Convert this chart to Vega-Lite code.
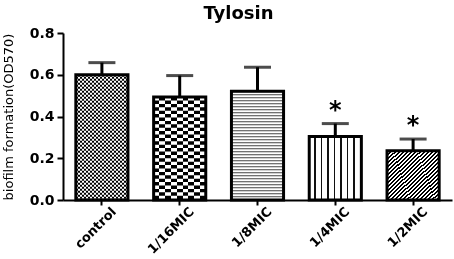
{
  "$schema": "https://vega.github.io/schema/vega-lite/v6.json",
  "width": 389,
  "height": 167,
  "autosize": "none",
  "padding": {"left": 63, "top": 33, "right": 2, "bottom": 59},
  "background": "white",
  "config": {"view": {"stroke": null}},
  "title": {"text": "Tylosin", "font": "DejaVu Sans", "fontSize": 18, "fontWeight": "bold", "color": "black", "dx": -19, "offset": 3},
  "data": {"values": [
    {"group": "control", "mean": 0.6, "upper": 0.658, "sig": ""},
    {"group": "1/16MIC", "mean": 0.493, "upper": 0.596, "sig": ""},
    {"group": "1/8MIC", "mean": 0.521, "upper": 0.636, "sig": ""},
    {"group": "1/4MIC", "mean": 0.304, "upper": 0.366, "sig": "*"},
    {"group": "1/2MIC", "mean": 0.236, "upper": 0.292, "sig": "*"}
  ]},
  "encoding": {
    "x": {"field": "group", "type": "nominal", "sort": null,
      "scale": {"paddingInner": 0.33, "paddingOuter": 0.165},
      "axis": {"title": null, "labelAngle": -45, "labelFont": "DejaVu Sans", "labelFontWeight": "bold", "labelFontSize": 13, "labelColor": "black", "domainColor": "black", "domainWidth": 2, "tickColor": "black", "tickWidth": 2, "tickSize": 5, "labelPadding": 0, "labelOffset": 8}},
    "y": {"field": "mean", "type": "quantitative", "scale": {"domain": [0, 0.8], "nice": false},
      "axis": {"title": "biofilm formation(OD570)", "values": [0, 0.2, 0.4, 0.6, 0.8], "format": ".1f", "grid": false, "labelFont": "DejaVu Sans", "labelFontWeight": "bold", "labelFontSize": 14, "labelColor": "black", "domainColor": "black", "domainWidth": 2, "tickColor": "black", "tickWidth": 2, "tickSize": 6, "labelPadding": 3, "titleFont": "DejaVu Sans", "titleFontSize": 13, "titleFontWeight": "normal", "titleColor": "black", "titlePadding": 14}}
  },
  "layer": [
    {"mark": {"type": "bar", "fill": "white", "strokeWidth": 0}},
    {"transform": [{"filter": "datum.group == 'control'"}],
     "mark": {"type": "rule", "color": "black", "strokeWidth": 52, "strokeDash": [2, 2], "strokeCap": "butt"},
     "encoding": {"y2": {"datum": 0}}},
    {"transform": [{"filter": "datum.group == 'control'"}],
     "mark": {"type": "bar", "strokeWidth": 0, "blend": "difference", "fill": {"gradient": "linear", "x1": 0, "y1": 0, "x2": 1, "y2": 0, "stops": [
       {"offset": 0, "color": "white"}, {"offset": 0.0385, "color": "white"}, {"offset": 0.0385, "color": "rgba(255,255,255,0)"}, {"offset": 0.0769, "color": "rgba(255,255,255,0)"},
       {"offset": 0.0769, "color": "white"}, {"offset": 0.1154, "color": "white"}, {"offset": 0.1154, "color": "rgba(255,255,255,0)"}, {"offset": 0.1538, "color": "rgba(255,255,255,0)"},
       {"offset": 0.1538, "color": "white"}, {"offset": 0.1923, "color": "white"}, {"offset": 0.1923, "color": "rgba(255,255,255,0)"}, {"offset": 0.2308, "color": "rgba(255,255,255,0)"},
       {"offset": 0.2308, "color": "white"}, {"offset": 0.2692, "color": "white"}, {"offset": 0.2692, "color": "rgba(255,255,255,0)"}, {"offset": 0.3077, "color": "rgba(255,255,255,0)"},
       {"offset": 0.3077, "color": "white"}, {"offset": 0.3462, "color": "white"}, {"offset": 0.3462, "color": "rgba(255,255,255,0)"}, {"offset": 0.3846, "color": "rgba(255,255,255,0)"},
       {"offset": 0.3846, "color": "white"}, {"offset": 0.4231, "color": "white"}, {"offset": 0.4231, "color": "rgba(255,255,255,0)"}, {"offset": 0.4615, "color": "rgba(255,255,255,0)"},
       {"offset": 0.4615, "color": "white"}, {"offset": 0.5, "color": "white"}, {"offset": 0.5, "color": "rgba(255,255,255,0)"}, {"offset": 0.5385, "color": "rgba(255,255,255,0)"},
       {"offset": 0.5385, "color": "white"}, {"offset": 0.5769, "color": "white"}, {"offset": 0.5769, "color": "rgba(255,255,255,0)"}, {"offset": 0.6154, "color": "rgba(255,255,255,0)"},
       {"offset": 0.6154, "color": "white"}, {"offset": 0.6538, "color": "white"}, {"offset": 0.6538, "color": "rgba(255,255,255,0)"}, {"offset": 0.6923, "color": "rgba(255,255,255,0)"},
       {"offset": 0.6923, "color": "white"}, {"offset": 0.7308, "color": "white"}, {"offset": 0.7308, "color": "rgba(255,255,255,0)"}, {"offset": 0.7692, "color": "rgba(255,255,255,0)"},
       {"offset": 0.7692, "color": "white"}, {"offset": 0.8077, "color": "white"}, {"offset": 0.8077, "color": "rgba(255,255,255,0)"}, {"offset": 0.8462, "color": "rgba(255,255,255,0)"},
       {"offset": 0.8462, "color": "white"}, {"offset": 0.8846, "color": "white"}, {"offset": 0.8846, "color": "rgba(255,255,255,0)"}, {"offset": 0.9231, "color": "rgba(255,255,255,0)"},
       {"offset": 0.9231, "color": "white"}, {"offset": 0.9615, "color": "white"}, {"offset": 0.9615, "color": "rgba(255,255,255,0)"}, {"offset": 1, "color": "rgba(255,255,255,0)"}
     ]}}},
    {"transform": [{"filter": "datum.group == '1/16MIC'"}],
     "mark": {"type": "rule", "color": "black", "strokeWidth": 52, "strokeDash": [3.4, 3.4], "strokeCap": "butt"},
     "encoding": {"y2": {"datum": 0}}},
    {"transform": [{"filter": "datum.group == '1/16MIC'"}],
     "mark": {"type": "bar", "strokeWidth": 0, "blend": "difference", "fill": {"gradient": "linear", "x1": 0, "y1": 0, "x2": 1, "y2": 0, "stops": [
       {"offset": 0, "color": "white"}, {"offset": 0.1111, "color": "white"}, {"offset": 0.1111, "color": "rgba(255,255,255,0)"}, {"offset": 0.2222, "color": "rgba(255,255,255,0)"},
       {"offset": 0.2222, "color": "white"}, {"offset": 0.3333, "color": "white"}, {"offset": 0.3333, "color": "rgba(255,255,255,0)"}, {"offset": 0.4444, "color": "rgba(255,255,255,0)"},
       {"offset": 0.4444, "color": "white"}, {"offset": 0.5556, "color": "white"}, {"offset": 0.5556, "color": "rgba(255,255,255,0)"}, {"offset": 0.6667, "color": "rgba(255,255,255,0)"},
       {"offset": 0.6667, "color": "white"}, {"offset": 0.7778, "color": "white"}, {"offset": 0.7778, "color": "rgba(255,255,255,0)"}, {"offset": 0.8889, "color": "rgba(255,255,255,0)"},
       {"offset": 0.8889, "color": "white"}, {"offset": 1, "color": "white"}
     ]}}},
    {"transform": [{"filter": "datum.group == '1/8MIC'"}],
     "mark": {"type": "rule", "color": "#444", "strokeWidth": 52, "strokeDash": [1, 2], "strokeCap": "butt"},
     "encoding": {"y2": {"datum": 0}}},
    {"transform": [{"filter": "datum.group == '1/4MIC'"}],
     "mark": {"type": "bar", "strokeWidth": 0, "fill": {"gradient": "linear", "x1": 0, "y1": 0, "x2": 1, "y2": 0, "stops": [
       {"offset": 0, "color": "white"}, {"offset": 0.095, "color": "white"}, {"offset": 0.095, "color": "#111"}, {"offset": 0.125, "color": "#111"},
       {"offset": 0.125, "color": "white"}, {"offset": 0.22, "color": "white"}, {"offset": 0.22, "color": "#111"}, {"offset": 0.25, "color": "#111"},
       {"offset": 0.25, "color": "white"}, {"offset": 0.345, "color": "white"}, {"offset": 0.345, "color": "#111"}, {"offset": 0.375, "color": "#111"},
       {"offset": 0.375, "color": "white"}, {"offset": 0.47, "color": "white"}, {"offset": 0.47, "color": "#111"}, {"offset": 0.5, "color": "#111"},
       {"offset": 0.5, "color": "white"}, {"offset": 0.595, "color": "white"}, {"offset": 0.595, "color": "#111"}, {"offset": 0.625, "color": "#111"},
       {"offset": 0.625, "color": "white"}, {"offset": 0.72, "color": "white"}, {"offset": 0.72, "color": "#111"}, {"offset": 0.75, "color": "#111"},
       {"offset": 0.75, "color": "white"}, {"offset": 0.845, "color": "white"}, {"offset": 0.845, "color": "#111"}, {"offset": 0.875, "color": "#111"},
       {"offset": 0.875, "color": "white"}, {"offset": 1, "color": "white"}
     ]}}},
    {"transform": [{"filter": "datum.group == '1/2MIC'"}],
     "mark": {"type": "bar", "strokeWidth": 0, "fill": {"gradient": "linear", "x1": 0, "y1": 0, "x2": 1, "y2": 1, "stops": [
       {"offset": 0, "color": "#000"}, {"offset": 0.02, "color": "#000"}, {"offset": 0.02, "color": "#fff"}, {"offset": 0.04, "color": "#fff"},
       {"offset": 0.04, "color": "#000"}, {"offset": 0.06, "color": "#000"}, {"offset": 0.06, "color": "#fff"}, {"offset": 0.08, "color": "#fff"},
       {"offset": 0.08, "color": "#000"}, {"offset": 0.1, "color": "#000"}, {"offset": 0.1, "color": "#fff"}, {"offset": 0.12, "color": "#fff"},
       {"offset": 0.12, "color": "#000"}, {"offset": 0.14, "color": "#000"}, {"offset": 0.14, "color": "#fff"}, {"offset": 0.16, "color": "#fff"},
       {"offset": 0.16, "color": "#000"}, {"offset": 0.18, "color": "#000"}, {"offset": 0.18, "color": "#fff"}, {"offset": 0.2, "color": "#fff"},
       {"offset": 0.2, "color": "#000"}, {"offset": 0.22, "color": "#000"}, {"offset": 0.22, "color": "#fff"}, {"offset": 0.24, "color": "#fff"},
       {"offset": 0.24, "color": "#000"}, {"offset": 0.26, "color": "#000"}, {"offset": 0.26, "color": "#fff"}, {"offset": 0.28, "color": "#fff"},
       {"offset": 0.28, "color": "#000"}, {"offset": 0.3, "color": "#000"}, {"offset": 0.3, "color": "#fff"}, {"offset": 0.32, "color": "#fff"},
       {"offset": 0.32, "color": "#000"}, {"offset": 0.34, "color": "#000"}, {"offset": 0.34, "color": "#fff"}, {"offset": 0.36, "color": "#fff"},
       {"offset": 0.36, "color": "#000"}, {"offset": 0.38, "color": "#000"}, {"offset": 0.38, "color": "#fff"}, {"offset": 0.4, "color": "#fff"},
       {"offset": 0.4, "color": "#000"}, {"offset": 0.42, "color": "#000"}, {"offset": 0.42, "color": "#fff"}, {"offset": 0.44, "color": "#fff"},
       {"offset": 0.44, "color": "#000"}, {"offset": 0.46, "color": "#000"}, {"offset": 0.46, "color": "#fff"}, {"offset": 0.48, "color": "#fff"},
       {"offset": 0.48, "color": "#000"}, {"offset": 0.5, "color": "#000"}, {"offset": 0.5, "color": "#fff"}, {"offset": 0.52, "color": "#fff"},
       {"offset": 0.52, "color": "#000"}, {"offset": 0.54, "color": "#000"}, {"offset": 0.54, "color": "#fff"}, {"offset": 0.56, "color": "#fff"},
       {"offset": 0.56, "color": "#000"}, {"offset": 0.58, "color": "#000"}, {"offset": 0.58, "color": "#fff"}, {"offset": 0.6, "color": "#fff"},
       {"offset": 0.6, "color": "#000"}, {"offset": 0.62, "color": "#000"}, {"offset": 0.62, "color": "#fff"}, {"offset": 0.64, "color": "#fff"},
       {"offset": 0.64, "color": "#000"}, {"offset": 0.66, "color": "#000"}, {"offset": 0.66, "color": "#fff"}, {"offset": 0.68, "color": "#fff"},
       {"offset": 0.68, "color": "#000"}, {"offset": 0.7, "color": "#000"}, {"offset": 0.7, "color": "#fff"}, {"offset": 0.72, "color": "#fff"},
       {"offset": 0.72, "color": "#000"}, {"offset": 0.74, "color": "#000"}, {"offset": 0.74, "color": "#fff"}, {"offset": 0.76, "color": "#fff"},
       {"offset": 0.76, "color": "#000"}, {"offset": 0.78, "color": "#000"}, {"offset": 0.78, "color": "#fff"}, {"offset": 0.8, "color": "#fff"},
       {"offset": 0.8, "color": "#000"}, {"offset": 0.82, "color": "#000"}, {"offset": 0.82, "color": "#fff"}, {"offset": 0.84, "color": "#fff"},
       {"offset": 0.84, "color": "#000"}, {"offset": 0.86, "color": "#000"}, {"offset": 0.86, "color": "#fff"}, {"offset": 0.88, "color": "#fff"},
       {"offset": 0.88, "color": "#000"}, {"offset": 0.9, "color": "#000"}, {"offset": 0.9, "color": "#fff"}, {"offset": 0.92, "color": "#fff"},
       {"offset": 0.92, "color": "#000"}, {"offset": 0.94, "color": "#000"}, {"offset": 0.94, "color": "#fff"}, {"offset": 0.96, "color": "#fff"},
       {"offset": 0.96, "color": "#000"}, {"offset": 0.98, "color": "#000"}, {"offset": 0.98, "color": "#fff"}, {"offset": 1, "color": "#fff"}
     ]}}},
    {"mark": {"type": "bar", "filled": false, "color": "black", "strokeWidth": 3, "strokeJoin": "miter"}},
    {"mark": {"type": "rule", "color": "black", "strokeWidth": 3},
     "encoding": {"y2": {"field": "upper"}}},
    {"mark": {"type": "tick", "orient": "horizontal", "color": "black", "size": 27, "thickness": 3},
     "encoding": {"y": {"field": "upper", "type": "quantitative"}}},
    {"transform": [{"filter": "datum.sig == '*'"}],
     "mark": {"type": "text", "font": "DejaVu Sans", "fontSize": 24, "fontWeight": "bold", "color": "black", "baseline": "alphabetic", "dy": -6},
     "encoding": {"y": {"field": "upper", "type": "quantitative"}, "text": {"field": "sig"}}}
  ]
}
